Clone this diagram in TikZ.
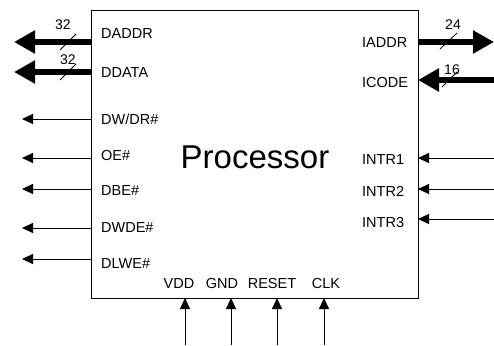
\documentclass[tikz,border=0pt]{standalone}
\usepackage{fontspec}
\setmainfont{Liberation Sans}
\usetikzlibrary{arrows.meta}

\begin{document}
\begin{tikzpicture}[x=1pt,y=-1pt]

        \useasboundingbox (0,0) rectangle (494,345);

        \node[draw, line width=0.8pt, minimum width=327pt, minimum height=288pt,
              anchor=north west] (proc) at (91,10) {};
        \node[font=\fontsize{33}{36}\selectfont] (name) at (255,157) {Processor};

        \begin{scope}[every node/.style={font=\fontsize{14.5}{16}\selectfont, inner sep=0pt,
                      text height=10pt, text depth=0pt}]
          \node[anchor=west] (l1) at (101,33)  {DADDR};
          \node[anchor=west] (l2) at (101,72)  {DDATA};
          \node[anchor=west] (l3) at (101,119) {DW/DR\#};
          \node[anchor=west] (l4) at (101,155) {OE\#};
          \node[anchor=west] (l5) at (101,190) {DBE\#};
          \node[anchor=west] (l6) at (101,227) {DWDE\#};
          \node[anchor=west] (l7) at (101,263) {DLWE\#};
          \node[anchor=west] (r1) at (362,43)  {IADDR};
          \node[anchor=west] (r2) at (362,82)  {ICODE};
          \node[anchor=west] (r3) at (362,159) {INTR1};
          \node[anchor=west] (r4) at (362,191) {INTR2};
          \node[anchor=west] (r5) at (362,222) {INTR3};
          \node (b1) at (179,283) {VDD};
          \node (b2) at (222,283) {GND};
          \node (b3) at (272,283) {RESET};
          \node (b4) at (326,283) {CLK};
        \end{scope}

        \begin{scope}[every node/.style={font=\fontsize{14}{16}\selectfont, inner sep=0pt}]
          \node (w1) at (63,25) {32};
          \node (w2) at (68,60) {32};
          \node (w3) at (453,25) {24};
          \node (w4) at (452,70) {16};
        \end{scope}

        \coordinate (pl1) at (91,42);   \coordinate (el1) at (14,42);
        \coordinate (pl2) at (91,72);   \coordinate (el2) at (14,72);
        \coordinate (pl3) at (91,119);  \coordinate (el3) at (22,119);
        \coordinate (pl4) at (91,158);  \coordinate (el4) at (22,158);
        \coordinate (pl5) at (91,189);  \coordinate (el5) at (22,189);
        \coordinate (pl6) at (91,228);  \coordinate (el6) at (22,228);
        \coordinate (pl7) at (91,259);  \coordinate (el7) at (22,259);
        \coordinate (pr1) at (418,42);  \coordinate (er1) at (494,42);
        \coordinate (pr2) at (418,80);  \coordinate (er2) at (494,80);
        \coordinate (pr3) at (418,158); \coordinate (er3) at (494,158);
        \coordinate (pr4) at (418,189); \coordinate (er4) at (494,189);
        \coordinate (pr5) at (418,219); \coordinate (er5) at (494,219);
        \coordinate (pb1) at (185,298); \coordinate (eb1) at (185,345);
        \coordinate (pb2) at (231,298); \coordinate (eb2) at (231,345);
        \coordinate (pb3) at (277,298); \coordinate (eb3) at (277,345);
        \coordinate (pb4) at (324,298); \coordinate (eb4) at (324,345);

        \begin{scope}[line width=6pt, -{Triangle[length=21pt,width=22pt]}]
          \draw (pl1) -- (el1);
          \draw (pl2) -- (el2);
          \draw (pr1) -- (er1);
          \draw (er2) -- (pr2);
        \end{scope}

        \begin{scope}[line width=0.9pt, -{Triangle[length=11pt,width=10pt]}]
          \draw (pl3) -- (el3);
          \draw (pl4) -- (el4);
          \draw (pl5) -- (el5);
          \draw (pl6) -- (el6);
          \draw (pl7) -- (el7);
          \draw (er3) -- (pr3);
          \draw (er4) -- (pr4);
          \draw (er5) -- (pr5);
          \draw (eb1) -- (pb1);
          \draw (eb2) -- (pb2);
          \draw (eb3) -- (pb3);
          \draw (eb4) -- (pb4);
        \end{scope}

        \begin{scope}[line width=0.8pt]
          \draw (60,50) -- (76,34);
          \draw (60,80) -- (76,64);
          \draw (440,49) -- (457,33);
          \draw (442,87) -- (457,72);
        \end{scope}

      \end{tikzpicture}
\end{document}
